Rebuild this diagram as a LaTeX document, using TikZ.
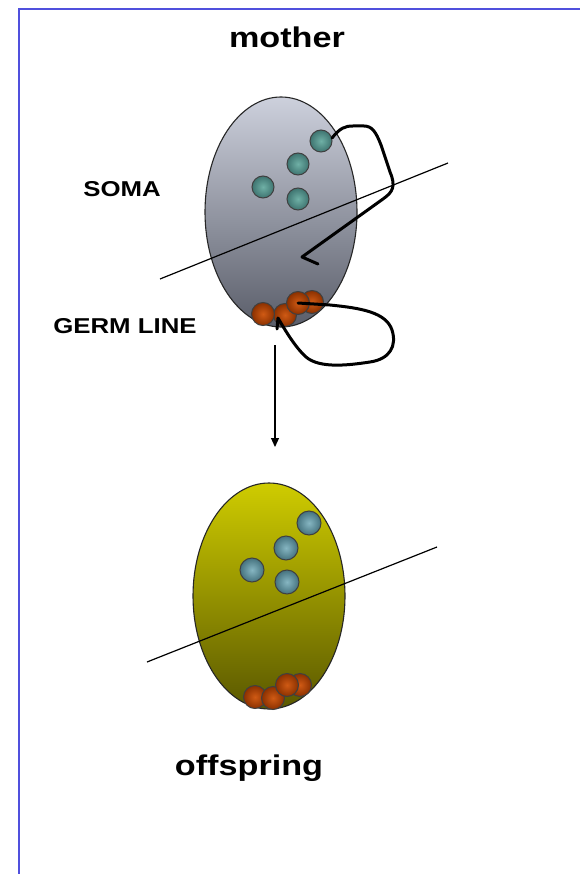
\documentclass[tikz,border=0pt]{standalone}
\usepackage{fontspec}
\setmainfont{Liberation Sans}[FakeStretch=1.2]
\usetikzlibrary{shapes.geometric,arrows.meta}
\definecolor{framec}{HTML}{5050DD}
\definecolor{momtop}{HTML}{CDD0DC}
\definecolor{mombot}{HTML}{5A5E6A}
\definecolor{offtop}{HTML}{CFCC00}
\definecolor{offbot}{HTML}{5A5800}
\definecolor{HTML6FB0A6}{HTML}{6FB0A6}
\definecolor{HTML3E7470}{HTML}{3E7470}
\definecolor{HTML86B6C2}{HTML}{86B6C2}
\definecolor{HTML45727E}{HTML}{45727E}
\definecolor{HTMLD05A14}{HTML}{D05A14}
\definecolor{HTML8A3000}{HTML}{8A3000}
\tikzset{
  cell/.style={ellipse, draw=black!85, line width=1.1pt, inner sep=0pt},
  ballbase/.style={circle, draw=black!75, line width=1pt, inner sep=0pt, minimum size=22pt},
  tealA/.style={ballbase, inner color=HTML6FB0A6, outer color=HTML3E7470},
  tealB/.style={ballbase, minimum size=24pt, inner color=HTML86B6C2, outer color=HTML45727E},
  orng/.style={ballbase, minimum size=23pt, inner color=HTMLD05A14, outer color=HTML8A3000},
  divider/.style={line width=1.2pt, black},
  loop/.style={line width=3pt, black, line join=round, line cap=round},
  lab/.style={font=\bfseries\fontsize{21.5}{24}\selectfont, anchor=base},
  title/.style={font=\bfseries\fontsize{28.5}{32}\selectfont, anchor=base}
}
\begin{document}
\begin{tikzpicture}[x=1pt,y=-1pt]
\useasboundingbox (0,0) rectangle (580,874);
\fill[white] (0,0) rectangle (580,874);
% frame
\draw[framec, line width=2pt] (19,874) -- (19,9) -- (580,9);

% titles and labels
\node[title] (tmother) at (287,48) {mother};
\node[title] (toff) at (249,775) {offspring};
\node[lab] (tsoma) at (122,197) {SOMA};
\node[lab] (tgerm) at (125,333) {GERM LINE};

% mother cell
\node[cell, minimum width=152pt, minimum height=230pt, top color=momtop, bottom color=mombot] (mom) at (281,212) {};
\coordinate (md1) at (160,279);
\coordinate (md2) at (448,163);
\draw[divider] (md1) -- (md2);
\node[tealA] (m1) at (321,141) {};
\node[tealA] (m2) at (298,164) {};
\node[tealA] (m3) at (263,187) {};
\node[tealA] (m4) at (298,199) {};
\node[orng] (g4) at (312,302) {};
\node[orng] (g2) at (285,315) {};
\node[orng] (g1) at (263,314) {};
\node[orng] (g3) at (298,303) {};

% soma loop
\coordinate (tipA) at (302,257);
\coordinate (barbA) at (318,264);
\draw[loop] (m1.center) ++(11,-3) .. controls (340,128) and (345,126) .. (353,126) -- (364,126)
  .. controls (372,126) and (376,132) .. (381,145) -- (390,172)
  .. controls (396,186) and (393,192) .. (383,199) -- (tipA) -- (barbA);

% germ line loop
\coordinate (tipB) at (278,318);
\coordinate (barbB) at (277,329);
\draw[loop] (g3.center) -- (330,305) .. controls (360,308) and (386,312) .. (392,330)
  .. controls (397,346) and (390,359) .. (370,362)
  .. controls (350,365) and (320,369) .. (306,357)
  .. controls (295,347) and (285,330) .. (tipB) -- (barbB);

% transmission arrow
\coordinate (ar1) at (275,345);
\coordinate (ar2) at (275,447);
\draw[line width=1.2pt, -{Triangle[length=9pt,width=8pt]}] (ar1) -- (ar2);

% offspring cell
\node[cell, minimum width=152pt, minimum height=226pt, top color=offtop, bottom color=offbot] (off) at (269,596) {};
\coordinate (od1) at (147,662);
\coordinate (od2) at (437,547);
\draw[divider] (od1) -- (od2);
\node[tealB] (o1) at (309,523) {};
\node[tealB] (o2) at (286,548) {};
\node[tealB] (o3) at (252,570) {};
\node[tealB] (o4) at (287,582) {};
\node[orng] (h4) at (300,685) {};
\node[orng] (h1) at (255,697) {};
\node[orng] (h2) at (273,698) {};
\node[orng] (h3) at (287,685) {};
\end{tikzpicture}
\end{document}
